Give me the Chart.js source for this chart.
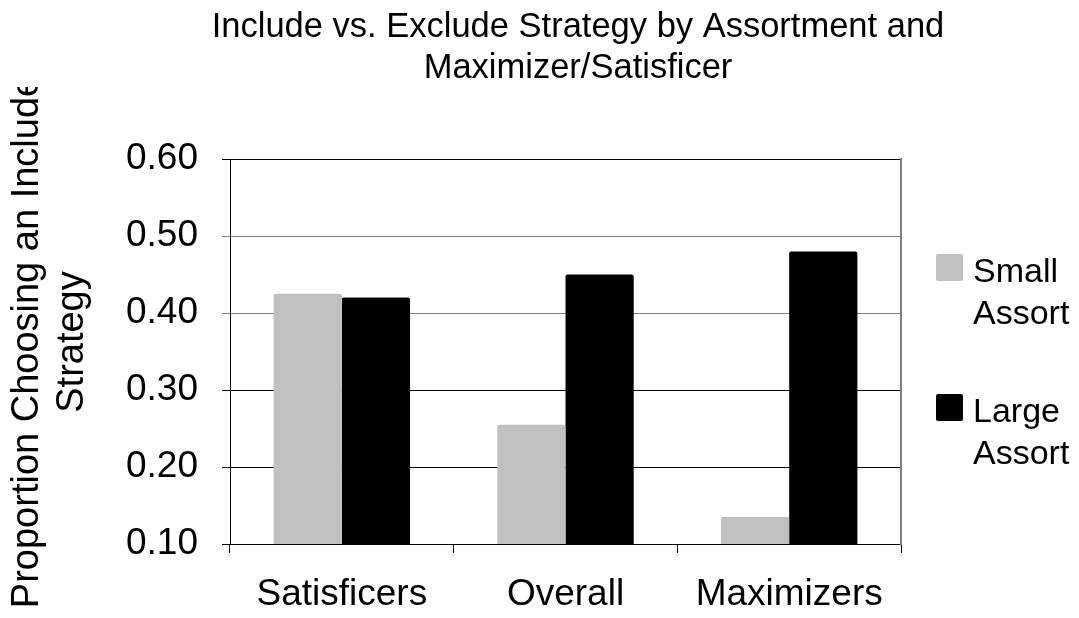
<!DOCTYPE html>
<html>
<head>
<meta charset="utf-8">
<script src="https://cdn.jsdelivr.net/npm/chart.js@4"></script>
<style>
  html, body { margin: 0; padding: 0; background: #fff; }
  #wrap { width: 1079px; height: 618px; position: relative; }
</style>
</head>
<body>
<div id="wrap"><canvas id="c" width="1079" height="618"></canvas></div>
<script>
// ---- data ----
const titleLines = ['Include vs. Exclude Strategy by Assortment and', 'Maximizer/Satisficer'];
const yTitleLines = ['Proportion Choosing an Include', 'Strategy'];
const categories = ['Satisficers', 'Overall', 'Maximizers'];
const seriesNames = ['Small Assort', 'Large Assort'];
const smallAssort = [0.425, 0.255, 0.135];
const largeAssort = [0.42, 0.45, 0.48];
const yMin = 0.10;
const yMax = 0.60;
const yStep = 0.10;
const seriesColors = ['#C0C0C0', '#000000'];

const FONT = '"Liberation Sans", Arial, sans-serif';

// y-axis title (clipped at the top like the original) and wrapped legend
const decorPlugin = {
  id: 'decor',
  afterDraw(chart) {
    const ctx = chart.ctx;
    const area = chart.chartArea;
    // y title
    ctx.save();
    ctx.beginPath();
    ctx.rect(0, 87, 110, chart.height);
    ctx.clip();
    ctx.fillStyle = '#000';
    ctx.font = '38px ' + FONT;
    ctx.textAlign = 'center';
    ctx.textBaseline = 'middle';
    ctx.translate(28, 342);
    ctx.rotate(-Math.PI / 2);
    yTitleLines.forEach((line, i) => ctx.fillText(line, 0, i * 45));
    ctx.restore();

    // legend
    ctx.save();
    ctx.font = '34px ' + FONT;
    ctx.textAlign = 'left';
    ctx.textBaseline = 'alphabetic';
    chart.data.datasets.forEach((ds, i) => {
      const bx = area.right + 35;
      const by = area.top + 95 + i * 140;
      ctx.fillStyle = ds.backgroundColor;
      ctx.beginPath();
      if (ctx.roundRect) ctx.roundRect(bx, by, 27, 27, 2); else ctx.rect(bx, by, 27, 27);
      ctx.fill();
      ctx.fillStyle = '#000';
      ds.label.split(' ').forEach((w, j) => ctx.fillText(w, bx + 37, by + 28 + j * 42));
    });
    ctx.restore();
  }
};

new Chart(document.getElementById('c'), {
  type: 'bar',
  data: {
    labels: categories,
    datasets: [
      { label: seriesNames[0], data: smallAssort, backgroundColor: seriesColors[0], borderWidth: 0, borderRadius: 2, borderSkipped: 'bottom' },
      { label: seriesNames[1], data: largeAssort, backgroundColor: seriesColors[1], borderWidth: 0, borderRadius: 2, borderSkipped: 'bottom' }
    ]
  },
  options: {
    responsive: false,
    animation: false,
    devicePixelRatio: 1,
    layout: { padding: { left: 77, right: 0, top: 0, bottom: 0 } },
    datasets: { bar: { categoryPercentage: 0.61, barPercentage: 1.0 } },
    plugins: {
      legend: { display: false },
      tooltip: { enabled: false },
      title: {
        display: true,
        text: titleLines,
        color: '#000',
        font: { family: FONT, size: 34.5, weight: 'normal', lineHeight: '41px' },
        padding: { top: 7, bottom: 70 }
      }
    },
    scales: {
      x: {
        grid: { display: true, drawOnChartArea: false, drawTicks: true, tickLength: 9, color: '#000', offset: true },
        border: { display: true, color: '#000', width: 1 },
        ticks: { color: '#000', font: { family: FONT, size: 37 }, padding: 20, maxRotation: 0, autoSkip: false },
        afterFit(s) { s.height = 74; }
      },
      y: {
        min: yMin,
        max: yMax,
        grid: {
          drawOnChartArea: true,
          drawTicks: true,
          tickLength: 8,
          color: (c) => {
            const v = c.tick ? Math.round(c.tick.value * 100) : 0;
            return (v === 50 || v === 40) ? '#808080' : '#000';
          }
        },
        border: { display: true, color: '#000', width: 1 },
        ticks: {
          stepSize: yStep,
          color: '#000',
          padding: 24,
          font: { family: FONT, size: 37 },
          callback: (v) => Number(v).toFixed(2)
        },
        afterFit(s) { s.width = 153; }
      },
      y2: {
        type: 'linear',
        position: 'right',
        display: true,
        grid: { display: false, drawTicks: false },
        ticks: { display: false },
        border: { display: true, color: '#808080', width: 2 },
        afterFit(s) { s.width = 178; }
      }
    }
  },
  plugins: [decorPlugin]
});
</script>
</body>
</html>
